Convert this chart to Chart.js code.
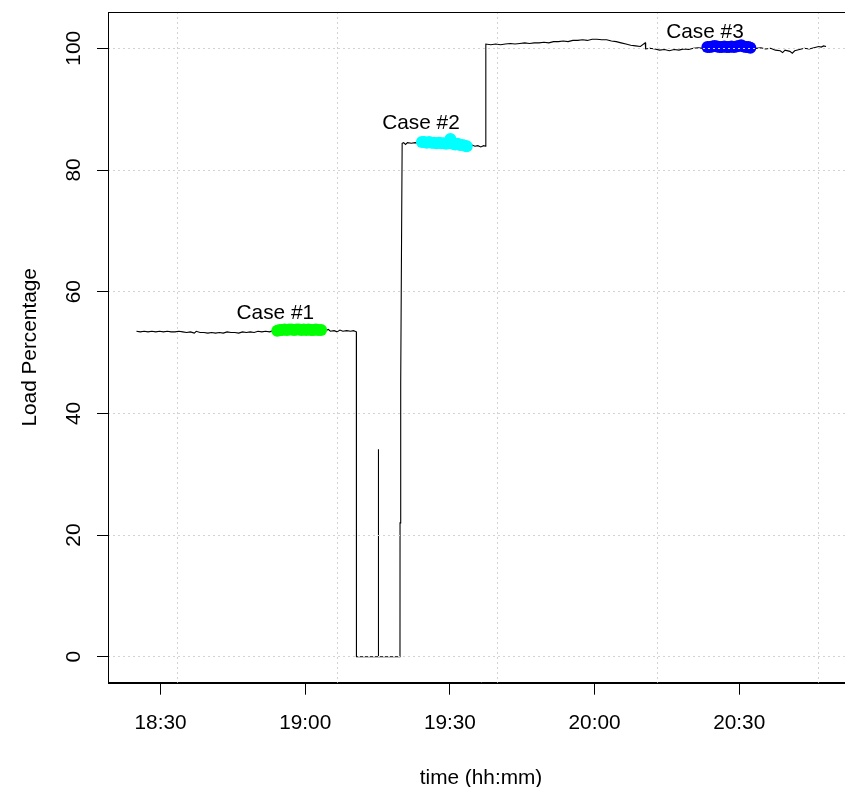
<!DOCTYPE html>
<html><head><meta charset="utf-8">
<script src="https://cdn.jsdelivr.net/npm/chart.js@4"></script>
<style>html,body{margin:0;padding:0;overflow:hidden;background:#fff}#wrap{width:845px;height:787px;overflow:hidden;position:relative}canvas{display:block}</style>
</head><body>
<div id="wrap"><canvas id="c" width="860" height="787"></canvas></div>
<script>
// time axis values are minutes after 18:00
const lineTimes = [25.0,25.8,26.6,27.4,28.2,29.0,29.8,30.6,31.4,32.2,33.0,33.8,34.6,35.4,36.2,37.0,37.4,38.2,39.0,39.8,40.6,41.4,42.2,43.0,43.8,44.6,45.4,46.2,47.0,47.8,48.6,49.4,50.2,51.0,51.8,52.6,53.4,54.2,56,58,60,62,63.6,64.2,64.8,65.2,66.0,66.6,67.2,67.8,68.6,69.4,70.0,70.6,
  70.62,75.1,75.16,75.22,79.65,79.66,79.8,80.0,80.1,80.4,80.8,81.2,82.0,82.8,83.6,85,87,89,91,93,94.0,94.6,95.2,95.8,96.4,97.0,97.42,
  97.45,98.5,99.5,100.5,101.5,102.5,103.5,104.5,105.5,106.5,107.5,108.5,109.5,110.5,111.5,112.5,113.5,114.5,115.5,116.5,117.5,118.5,119.5,120.5,121.5,122.5,123.5,124.5,125.5,126.5,127.5,128.5,129.5,130.5,130.6,131.5,132.5,133.5,134.5,135.5,136.5,137.5,138.5,139.5,140.5,141.5,142.5,144,146,148,150,152,152.5,153.5,154.5,155.5,156.5,157.5,158.5,159.0,159.5,160.5,161.0,161.5,162.5,163.5,164.5,165.5,166.5,167.0,167.5,168.0];
const lineLoads = [53.5,53.4,53.5,53.4,53.5,53.4,53.5,53.4,53.5,53.4,53.4,53.5,53.4,53.3,53.4,53.2,53.5,53.3,53.3,53.2,53.3,53.2,53.3,53.2,53.4,53.3,53.3,53.2,53.4,53.3,53.4,53.3,53.5,53.4,53.5,53.4,53.6,53.6,53.7,53.6,53.7,53.6,53.6,53.6,53.8,53.5,53.6,53.4,53.7,53.5,53.6,53.5,53.6,53.4,
  0,0,34.1,0,0,22,45,72,84.4,84.5,84.2,84.5,84.4,84.5,84.4,84.5,84.4,84.3,84.2,84.1,84.0,84.1,83.9,84.0,83.8,84.0,83.9,
  100.7,100.6,100.7,100.6,100.7,100.8,100.7,100.8,100.9,100.8,100.9,100.9,101.0,100.9,101.1,101.1,101.2,101.1,101.3,101.3,101.4,101.3,101.5,101.5,101.4,101.4,101.2,101.1,100.9,100.7,100.5,100.4,100.3,100.9,99.9,100.0,99.9,99.7,99.8,99.6,99.8,99.7,99.9,99.8,100.0,100.1,100.0,100.2,100.2,100.1,100.2,100.1,100.1,100.0,100.1,99.9,100.0,99.7,99.6,99.3,99.7,99.5,99.2,99.6,99.8,100.0,99.9,100.1,100.3,100.2,100.4,100.3];

const case1Times = [54.2,54.7,55.2,55.7,56.2,56.7,57.2,57.7,58.2,58.7,59.2,59.7,60.2,60.7,61.2,61.7,62.2,62.7,63.3];
const case1Loads = [53.6,53.7,53.7,53.8,53.7,53.8,53.8,53.7,53.8,53.8,53.7,53.8,53.7,53.8,53.7,53.7,53.8,53.7,53.7];
const case2Times = [84.2,84.7,85.2,85.7,86.2,86.7,87.2,87.7,88.2,88.7,89.2,89.7,90.1,90.6,91.1,91.6,92.1,92.6,93.1,93.5];
const case2Loads = [84.6,84.6,84.5,84.6,84.5,84.5,84.4,84.5,84.4,84.4,84.3,84.4,85.1,84.3,84.2,84.3,84.1,84.1,84.0,83.9];
const case3Times = [143.4,143.9,144.4,144.9,145.4,145.9,146.4,146.9,147.4,147.9,148.4,148.9,149.4,149.9,150.4,150.9,151.4,151.9,152.3];
const case3Loads = [100.2,100.2,100.3,100.4,100.3,100.2,100.2,100.3,100.2,100.2,100.3,100.2,100.3,100.4,100.5,100.3,100.2,100.2,100.1];

const caseNames = ['Case #1','Case #2','Case #3'];
const caseLabelX = [53.8, 84.0, 142.9];
const caseLabelY = [56.5, 87.7, 102.7];

const xTickValues = [30, 60, 90, 120, 150];
const xGridValues = [33.45, 66.7, 99.95, 133.15, 166.4];
const yTickValues = [0, 20, 40, 60, 80, 100];
const xMin = 19.1, xMax = 173.8, yMin = -4.26, yMax = 105.97;

const FAM = '"Liberation Sans", Arial, sans-serif';
const FS = 20.8;
function fmt(m){ const h = 18 + Math.floor(m/60); const mm = Math.round(m % 60); return h + ':' + String(mm).padStart(2,'0'); }
const pts = (t, v) => t.map((x, i) => ({x: x, y: v[i]}));
function noPad(s){ s.paddingTop = 0; s.paddingBottom = 0; s.paddingLeft = 0; s.paddingRight = 0; }

const boxPlugin = {
  id: 'box',
  afterDraw(chart) {
    const {ctx, chartArea: a, scales} = chart;
    ctx.save();
    ctx.fillStyle = '#000';
    ctx.font = FS + 'px ' + FAM;
    ctx.textAlign = 'center';
    ctx.textBaseline = 'middle';
    caseNames.forEach((n, i) => {
      ctx.fillText(n, scales.x.getPixelForValue(caseLabelX[i]), scales.y.getPixelForValue(caseLabelY[i]));
    });
    ctx.strokeStyle = '#000';
    ctx.lineWidth = 1;
    ctx.strokeRect(Math.round(a.left) + 0.5, Math.round(a.top) + 0.5, Math.round(a.right - a.left), Math.round(a.bottom - a.top));
    ctx.restore();
  }
};

const gridCommon = {
  display: true,
  ticks: {display: false},
  grid: {color: '#d3d3d3', lineWidth: 1, drawTicks: false, z: 1},
  border: {display: false, dash: [2, 3]}
};

new Chart(document.getElementById('c'), {
  type: 'line',
  data: {datasets: [
    {data: pts(case1Times, case1Loads), showLine: false, pointRadius: 6, pointBackgroundColor: '#00ff00', pointBorderColor: '#00ff00', pointBorderWidth: 0, order: 0},
    {data: pts(case2Times, case2Loads), showLine: false, pointRadius: 6, pointBackgroundColor: '#00ffff', pointBorderColor: '#00ffff', pointBorderWidth: 0, order: 0},
    {data: pts(case3Times, case3Loads), showLine: false, pointRadius: 6, pointBackgroundColor: '#0000ff', pointBorderColor: '#0000ff', pointBorderWidth: 0, order: 0},
    {data: pts(lineTimes, lineLoads), borderColor: '#000', borderWidth: 1.1, pointRadius: 0, tension: 0, fill: false, order: 1}
  ]},
  options: {
    responsive: false,
    devicePixelRatio: 1,
    animation: false,
    layout: {padding: {left: 0, right: 4.3, top: 12, bottom: 0}},
    plugins: {legend: {display: false}, tooltip: {enabled: false}},
    scales: {
      x: {
        type: 'linear', position: 'bottom', min: xMin, max: xMax,
        afterBuildTicks: s => { s.ticks = xTickValues.map(v => ({value: v})); },
        afterFit: s => { s.height = 104.3; noPad(s); },
        ticks: {callback: v => fmt(v), font: {family: FAM, size: FS}, color: '#000', padding: 16, maxRotation: 0, minRotation: 0, autoSkip: false},
        grid: {display: true, drawOnChartArea: false, drawTicks: true, tickLength: 12, tickColor: '#000', tickWidth: 1},
        border: {display: true, color: '#000', width: 1},
        title: {display: true, text: 'time (hh:mm)', color: '#000', font: {family: FAM, size: FS, lineHeight: 1}, padding: {top: 0, bottom: -1.5}}
      },
      y: {
        type: 'linear', position: 'left', min: yMin, max: yMax,
        afterBuildTicks: s => { s.ticks = yTickValues.map(v => ({value: v})); },
        afterFit: s => { s.width = 108; noPad(s); },
        ticks: {font: {family: FAM, size: FS}, color: '#000', padding: 5, minRotation: 90, maxRotation: 90, crossAlign: 'center', autoSkip: false},
        grid: {display: true, drawOnChartArea: false, drawTicks: true, tickLength: 11, tickColor: '#000', tickWidth: 1},
        border: {display: true, color: '#000', width: 1},
        title: {display: true, text: 'Load Percentage', color: '#000', font: {family: FAM, size: FS, lineHeight: 1}, padding: {top: 20, bottom: 0}}
      },
      xg: Object.assign({type: 'linear', position: 'top', min: xMin, max: xMax,
        afterBuildTicks: s => { s.ticks = xGridValues.map(v => ({value: v})); },
        afterFit: s => { s.height = 0; noPad(s); }}, JSON.parse(JSON.stringify(gridCommon))),
      yg: Object.assign({type: 'linear', position: 'right', min: yMin, max: yMax,
        afterBuildTicks: s => { s.ticks = yTickValues.map(v => ({value: v})); },
        afterFit: s => { s.width = 0; noPad(s); }}, JSON.parse(JSON.stringify(gridCommon)))
    }
  },
  plugins: [boxPlugin]
});
</script>
</body></html>
